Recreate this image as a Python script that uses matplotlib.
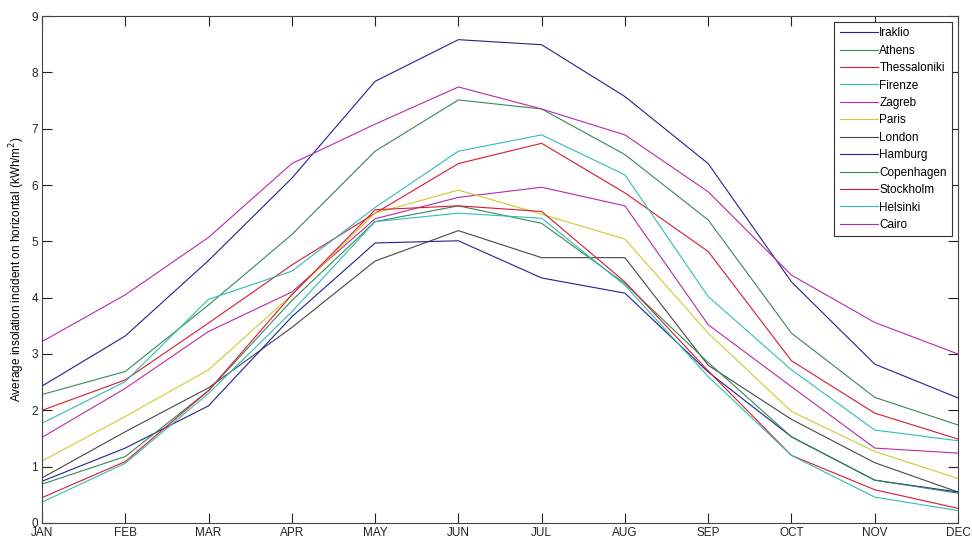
import numpy as np
import matplotlib.pyplot as plt

plt.rcParams['font.family'] = ['Liberation Sans', 'DejaVu Sans']

months = ['JAN', 'FEB', 'MAR', 'APR', 'MAY', 'JUN', 'JUL', 'AUG', 'SEP', 'OCT', 'NOV', 'DEC']

# average insolation on horizontal, kWh/m^2
iraklio      = [2.43, 3.32, 4.66, 6.12, 7.84, 8.58, 8.49, 7.57, 6.38, 4.28, 2.82, 2.22]
athens       = [2.28, 2.69, 3.87, 5.12, 6.60, 7.51, 7.35, 6.54, 5.38, 3.37, 2.23, 1.74]
thessaloniki = [2.00, 2.54, 3.55, 4.58, 5.50, 6.38, 6.74, 5.86, 4.82, 2.88, 1.95, 1.49]
firenze      = [1.77, 2.51, 3.97, 4.47, 5.60, 6.60, 6.89, 6.18, 4.02, 2.72, 1.65, 1.46]
zagreb       = [1.52, 2.39, 3.40, 4.10, 5.40, 5.78, 5.96, 5.63, 3.52, 2.42, 1.33, 1.24]
paris        = [1.10, 1.89, 2.72, 4.05, 5.50, 5.91, 5.48, 5.04, 3.37, 1.98, 1.27, 0.79]
london       = [0.80, 1.62, 2.40, 3.47, 4.65, 5.19, 4.71, 4.71, 2.80, 1.84, 1.07, 0.55]
hamburg      = [0.74, 1.33, 2.08, 3.66, 4.97, 5.01, 4.35, 4.08, 2.68, 1.53, 0.76, 0.55]
copenhagen   = [0.69, 1.18, 2.35, 3.95, 5.35, 5.63, 5.32, 4.25, 2.85, 1.53, 0.76, 0.53]
stockholm    = [0.45, 1.09, 2.35, 4.05, 5.56, 5.63, 5.53, 4.28, 2.70, 1.20, 0.59, 0.26]
helsinki     = [0.37, 1.06, 2.30, 3.75, 5.35, 5.50, 5.41, 4.22, 2.60, 1.20, 0.46, 0.22]
cairo        = [3.22, 4.05, 5.07, 6.38, 7.08, 7.74, 7.35, 6.89, 5.88, 4.40, 3.56, 3.00]

cities = ['Iraklio', 'Athens', 'Thessaloniki', 'Firenze', 'Zagreb', 'Paris',
          'London', 'Hamburg', 'Copenhagen', 'Stockholm', 'Helsinki', 'Cairo']
series = [iraklio, athens, thessaloniki, firenze, zagreb, paris,
          london, hamburg, copenhagen, stockholm, helsinki, cairo]

# old matlab default colour order (slightly muted like the jpeg)
colors = ['#22228f', '#358a55', '#d81a30', '#30bdb5', '#b82aa8', '#cccc30', '#474747']

fig = plt.figure(figsize=(9.72, 5.39), dpi=100)
fig.patch.set_facecolor('white')
ax = fig.add_axes([0.0432, 0.0297, 0.9424, 0.9406])

x = np.arange(len(months))
for i, (name, vals) in enumerate(zip(cities, series)):
    ax.plot(x, vals, color=colors[i % len(colors)], lw=0.8, label=name)

ax.set_xlim(0, 11)
ax.set_ylim(0, 9)
ax.set_xticks(x)
ax.set_xticklabels(months)
ax.set_yticks(range(10))
ax.tick_params(direction='in', length=7, width=0.8, top=True, right=True,
               labelsize=8.5, pad=3, colors='#222222')
ax.tick_params(axis='x', pad=3)
for s in ax.spines.values():
    s.set_linewidth(0.8)
    s.set_color('#444444')

ax.set_ylabel('Average insolation incident on horizontal (kWh/m$^2$)', fontsize=8.5, labelpad=3)

leg = ax.legend(loc='upper right', fontsize=8.5, handlelength=3.2, handletextpad=0.15,
                labelspacing=0.46, borderaxespad=0.5, borderpad=0.45, fancybox=False,
                framealpha=1)
leg.get_frame().set_edgecolor('#333333')
leg.get_frame().set_linewidth(0.8)

fig.savefig('out.png', dpi=100)
